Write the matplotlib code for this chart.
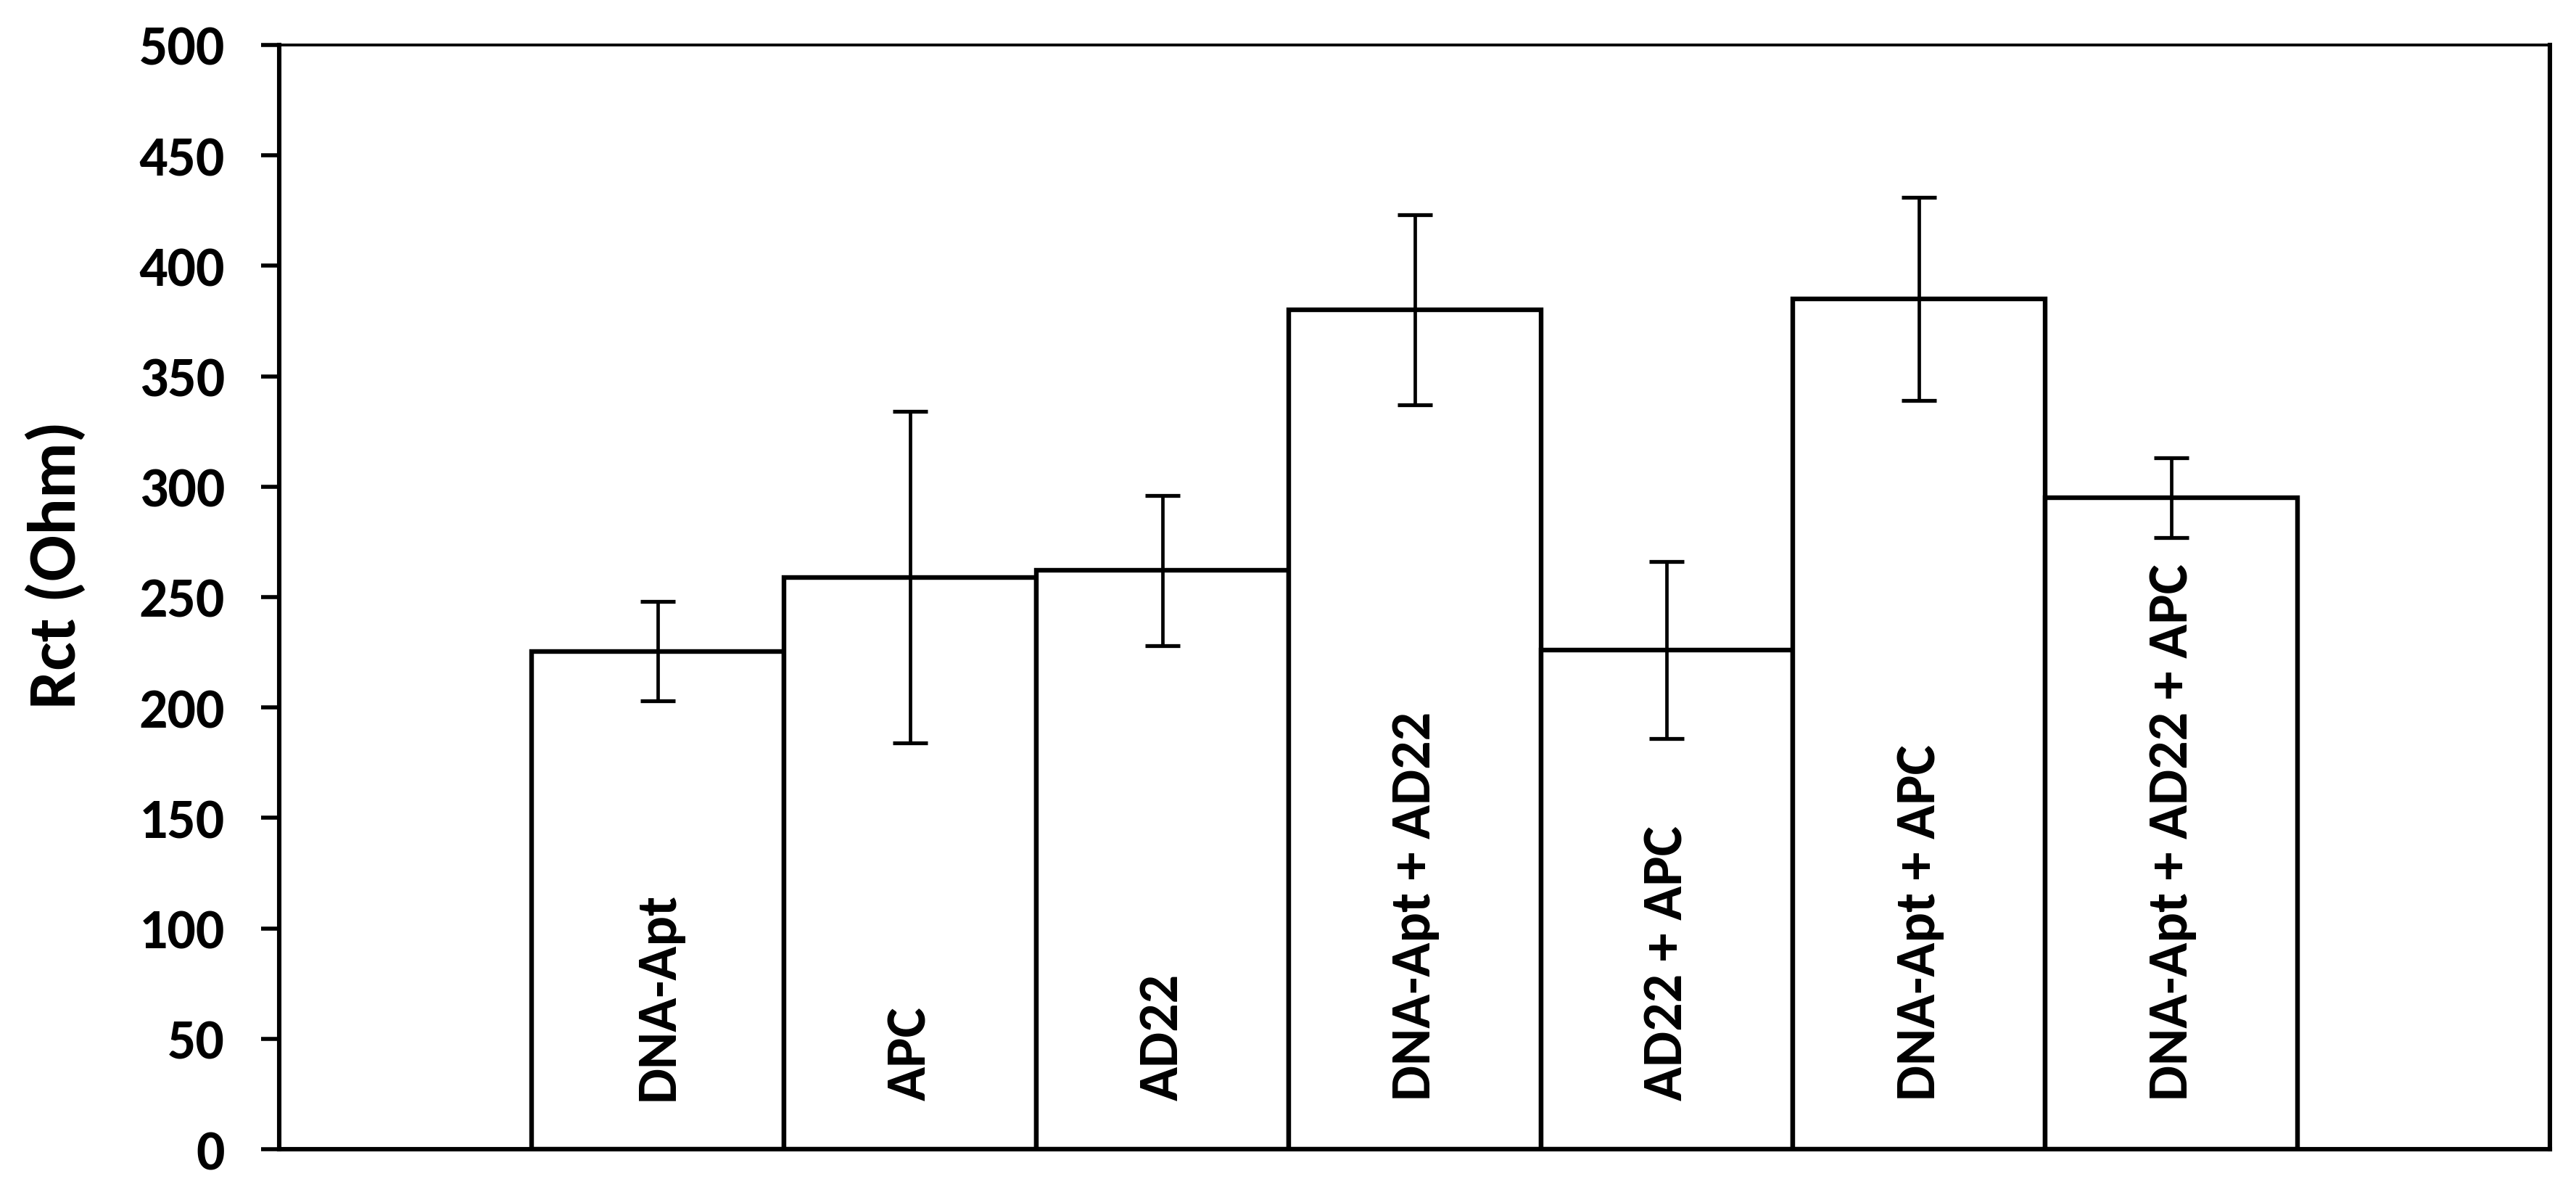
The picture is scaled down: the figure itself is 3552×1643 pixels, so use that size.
import matplotlib
matplotlib.use('Agg')
import matplotlib.pyplot as plt
import numpy as np

# bar data
labels = ['DNA-Apt', 'APC', 'AD22', 'DNA-Apt + AD22', 'AD22 + APC',
          'DNA-Apt + APC', 'DNA-Apt + AD22 + APC']
rct = [225.5, 259, 262, 380, 226, 385, 295]
err = [22.4, 75, 34, 43, 40, 46, 18]
yticks = [0, 50, 100, 150, 200, 250, 300, 350, 400, 450, 500]

FONT = ['Carlito', 'DejaVu Sans']

fig = plt.figure(figsize=(17.76, 8.215), dpi=200)
ax = fig.add_axes([0.1084, 0.0359, 0.8815, 0.9264])

x = np.arange(len(labels))
ax.bar(x, rct, width=1.0, color='white', edgecolor='black', linewidth=2.3, zorder=2)
ax.errorbar(x, rct, yerr=err, fmt='none', ecolor='black', elinewidth=1.7,
            capsize=8.5, capthick=1.9, zorder=3)

#=====labels inside the bars
for xi, lab in zip(x, labels):
    ax.text(xi, 22, lab, rotation=90, ha='center', va='bottom',
            fontsize=28, fontweight='bold', family=FONT, zorder=4)

ax.set_xlim(-1.5, 7.5)
ax.set_ylim(0, 500)
ax.set_yticks(yticks)
ax.set_yticklabels([str(t) for t in yticks], fontsize=28, fontweight='bold', family=FONT)
ax.set_xticks([])
ax.tick_params(axis='y', direction='out', length=9, width=2.0, pad=18)
ax.set_ylabel('Rct (Ohm)', fontsize=34, fontweight='bold', family=FONT)
ax.yaxis.set_label_coords(-0.085, 0.529)

for s in ['left', 'bottom', 'right']:
    ax.spines[s].set_linewidth(2.2)
ax.spines['top'].set_linewidth(1.4)

fig.savefig('out.png', dpi=200)
